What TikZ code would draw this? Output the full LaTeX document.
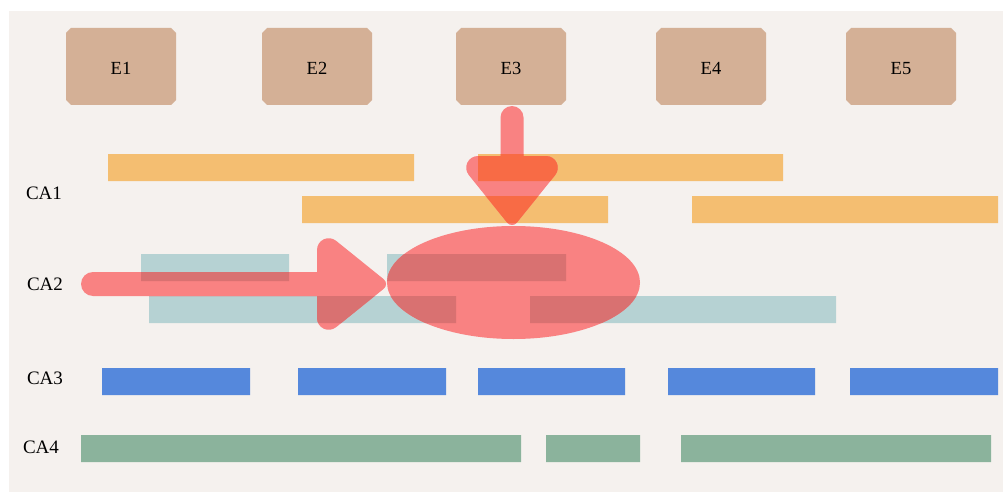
\documentclass[tikz,border=0pt]{standalone}
\usepackage{fontspec}
\setmainfont{Liberation Serif}
\usetikzlibrary{shapes.misc,shapes.geometric}
\definecolor{bg}{HTML}{F5F1EE}
\definecolor{ebox}{HTML}{D4B096}
\definecolor{ora}{HTML}{F4BE71}
\definecolor{teal}{HTML}{B6D2D3}
\definecolor{blu}{HTML}{5588DC}
\definecolor{grn}{HTML}{8BB39C}
\definecolor{redf}{HTML}{F98282}
\definecolor{darkred}{HTML}{D97171}
\definecolor{orred}{HTML}{F86B45}
\tikzset{
  ent/.style={shape=chamfered rectangle, chamfered rectangle xsep=2.5pt, chamfered rectangle ysep=2.5pt, fill=ebox, minimum width=110pt, minimum height=77pt, inner sep=0pt, text height=17pt, text depth=0pt, font=\fontsize{18.5}{20}\selectfont},
  lab/.style={font=\fontsize{19}{21}\selectfont, inner sep=0pt},
  redshape/.style={fill=redf}
}
\begin{document}
\begin{tikzpicture}[x=1pt,y=-1pt]
\useasboundingbox (0,0) rectangle (1003,492);
\fill[bg] (9,11) rectangle (1003,492);
% entities
\node[ent] (E1) at (121,66.5) {E1};
\node[ent] (E2) at (317,66.5) {E2};
\node[ent] (E3) at (511,66.5) {E3};
\node[ent] (E4) at (711,66.5) {E4};
\node[ent] (E5) at (901,66.5) {E5};
% row labels
\node[lab] (CA1) at (44,193) {CA1};
\node[lab] (CA2) at (45,284) {CA2};
\node[lab] (CA3) at (45,378) {CA3};
\node[lab] (CA4) at (41,447) {CA4};
% bars
\def\orabars{(108,154) rectangle (414,181) (478,154) rectangle (783,181) (302,196) rectangle (608,223) (692,196) rectangle (998,223)}
\def\tealbars{(141,254) rectangle (289,281) (387,254) rectangle (566,281) (149,296) rectangle (456,323) (530,296) rectangle (836,323)}
\fill[ora] \orabars;
\fill[teal] \tealbars;
\fill[blu] (102,368) rectangle (250,395) (298,368) rectangle (446,395) (478,368) rectangle (625,395) (668,368) rectangle (815,395) (850,368) rectangle (998,395);
\fill[grn] (81,435) rectangle (521,462) (546,435) rectangle (640,462) (681,435) rectangle (991,462);
% red focus ellipse
\node[shape=ellipse, redshape, minimum width=253pt, minimum height=113pt, inner sep=0pt] (hub) at (513.5,282.5) {};
% arrows
\def\dshaft{[rounded corners=11.5pt] (500.5,106) rectangle (523.5,170)}
\def\dhead{[shift={(512,156)}] (-43.1,19.2) -- (-4.8,66.7) .. controls (-2.4,69.8) and (2.4,69.8) .. (4.8,66.7) -- (43.1,19.2) .. controls (49.4,11.3) and (44,0) .. (33.9,0) -- (-33.9,0) .. controls (-44,0) and (-49.4,11.3) .. (-43.1,19.2) -- cycle}
\def\rshaft{[rounded corners=12pt] (81,272) rectangle (330,296)}
\def\rhead{[shift={(317,284)}] (19.2,-43.1) -- (66.7,-4.8) .. controls (69.8,-2.4) and (69.8,2.4) .. (66.7,4.8) -- (19.2,43.1) .. controls (11.3,49.4) and (0,44) .. (0,33.9) -- (0,-33.9) .. controls (0,-44) and (11.3,-49.4) .. (19.2,-43.1) -- cycle}
\fill[redf] \dshaft;
\fill[redf] \dhead;
\fill[redf] \rshaft;
\fill[redf] \rhead;
% overlaps
\begin{scope}\clip (hub.center) ellipse [x radius=126.5pt, y radius=56.5pt]; \fill[darkred] \tealbars; \end{scope}
\begin{scope}\clip \rshaft; \fill[darkred] \tealbars; \end{scope}
\begin{scope}\clip \rhead; \fill[darkred] \tealbars; \end{scope}
\begin{scope}\clip \dshaft; \fill[orred] \orabars; \end{scope}
\begin{scope}\clip \dhead; \fill[orred] \orabars; \end{scope}
\end{tikzpicture}
\end{document}
